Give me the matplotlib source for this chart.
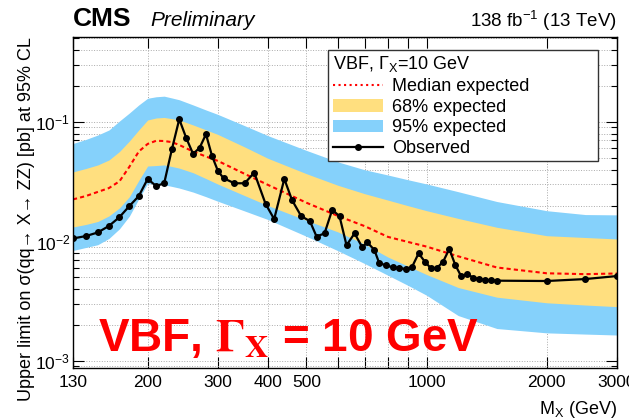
import numpy as np
import matplotlib
matplotlib.use("Agg")
import matplotlib.pyplot as plt
from matplotlib.ticker import FixedLocator, FixedFormatter, LogLocator, NullFormatter, NullLocator
from matplotlib.lines import Line2D
from matplotlib.patches import Patch

plt.rcParams['font.family'] = ['Liberation Sans', 'DejaVu Sans']
plt.rcParams['mathtext.default'] = 'regular'

# expected limit bands (pb)
mass_band = [130, 140, 150, 160, 170, 180, 190, 200, 210, 220, 230, 240, 260, 280, 300,
             350, 400, 500, 600, 700, 800, 900, 1000, 1200, 1500, 2000, 2500, 3000]
exp_95_hi = [0.0661, 0.0714, 0.0778, 0.0857, 0.1019, 0.1189, 0.1388, 0.1579, 0.1625, 0.1644,
             0.1588, 0.1534, 0.1388, 0.1260, 0.1156, 0.0931, 0.0769, 0.0578, 0.0463, 0.0398,
             0.0360, 0.0328, 0.0303, 0.0261, 0.0216, 0.0181, 0.0168, 0.0167]
exp_68_hi = [0.0382, 0.0408, 0.0437, 0.0481, 0.0566, 0.0693, 0.0857, 0.1039, 0.1080, 0.1091,
             0.1066, 0.1039, 0.0944, 0.0859, 0.0786, 0.0618, 0.0497, 0.0369, 0.0295, 0.0251,
             0.0222, 0.0199, 0.0181, 0.0156, 0.01315, 0.01118, 0.0108, 0.0105]
exp_median = [0.0225, 0.0240, 0.0260, 0.0280, 0.0319, 0.0422, 0.0566, 0.0655, 0.0696, 0.0693,
              0.0678, 0.0642, 0.0566, 0.0514, 0.0472, 0.0368, 0.0298, 0.0211, 0.01634, 0.01343,
              0.01093, 0.0099, 0.00906, 0.00752, 0.00606, 0.00542, 0.00533, 0.0054]
exp_68_lo = [0.01322, 0.01388, 0.0147, 0.01637, 0.0191, 0.0237, 0.0324, 0.0428, 0.0432, 0.0437,
             0.0424, 0.0411, 0.0376, 0.0336, 0.0302, 0.0242, 0.0200, 0.01502, 0.01201, 0.00948,
             0.00741, 0.0062, 0.00529, 0.00412, 0.00342, 0.00307, 0.00294, 0.00285]
exp_95_lo = [0.00841, 0.00891, 0.0094, 0.01061, 0.01277, 0.01632, 0.0227, 0.0306, 0.0302, 0.0298,
             0.0289, 0.0280, 0.0259, 0.0237, 0.0217, 0.0180, 0.01528, 0.01105, 0.00836, 0.00653,
             0.00522, 0.00428, 0.00355, 0.0024, 0.00187, 0.00172, 0.00168, 0.00165]

# observed limit
mass_obs = [130, 140, 150, 160, 170, 180, 190, 200, 210, 220, 230, 240, 250, 260, 270, 280, 290,
            300, 310, 330, 350, 370, 395, 415, 440, 460, 485, 510, 530, 555, 580, 605, 630, 660,
            690, 710, 740, 760, 790, 825, 855, 890, 920, 955, 990, 1025, 1060, 1100, 1140, 1180,
            1220, 1265, 1310, 1355, 1400, 1450, 1500, 2000, 2500, 3000]
obs_limit = [0.0106, 0.0111, 0.0119, 0.0135, 0.0160, 0.0198, 0.0240, 0.0334, 0.0291, 0.0307,
             0.0591, 0.1054, 0.0731, 0.0540, 0.0610, 0.0789, 0.0519, 0.0389, 0.0338, 0.0307,
             0.0307, 0.0377, 0.0206, 0.0154, 0.0334, 0.0222, 0.0163, 0.0148, 0.0110, 0.0117,
             0.0184, 0.0163, 0.0093, 0.0117, 0.00894, 0.00985, 0.00849, 0.00665, 0.0063, 0.00608,
             0.00597, 0.00589, 0.00615, 0.00796, 0.00678, 0.00597, 0.00597, 0.00678, 0.00866,
             0.00636, 0.00514, 0.00532, 0.00498, 0.00483, 0.00476, 0.00474, 0.0047, 0.00467,
             0.00485, 0.00514]

xticks = [130, 200, 300, 400, 500, 600, 700, 800, 900, 1000, 2000, 3000]
xticklabels = ['130', '200', '300', '400', '500', '', '', '', '', '1000', '2000', '3000']

W, H = 629, 419
fig = plt.figure(figsize=(W / 100, H / 100), dpi=100)
ax = fig.add_axes([73 / W, 1 - 368 / H, 544 / W, 331 / H])

ax.fill_between(mass_band, exp_95_lo, exp_95_hi, color='#85D1FB', lw=0)
ax.fill_between(mass_band, exp_68_lo, exp_68_hi, color='#FFDF7F', lw=0)
ax.plot(mass_band, exp_median, color='red', ls=(0, (2, 1.5)), lw=1.5)
ax.plot(mass_obs, obs_limit, color='black', lw=1.6, marker='o', ms=4)

ax.set_xscale('log')
ax.set_yscale('log')
ax.set_xlim(130, 3000)
ax.set_ylim(0.000874, 0.514)

ax.xaxis.set_major_locator(FixedLocator(xticks))
ax.xaxis.set_major_formatter(FixedFormatter(xticklabels))
ax.xaxis.set_minor_locator(NullLocator())
ax.yaxis.set_major_locator(LogLocator(base=10))
ax.yaxis.set_minor_locator(LogLocator(base=10, subs=range(2, 10)))
ax.yaxis.set_minor_formatter(NullFormatter())

ax.tick_params(which='both', direction='in', top=True, right=True, labelsize=12.5, width=0.8)
ax.tick_params(which='major', length=8)
ax.tick_params(which='minor', length=4.5)
ax.tick_params(axis='x', pad=5)
ax.tick_params(axis='y', pad=2)
for s in ax.spines.values():
    s.set_linewidth(1.0)

ax.set_axisbelow(True)
ax.grid(True, which='major', axis='x', color='#aaaaaa', ls=':', lw=0.7)
ax.grid(True, which='both', axis='y', color='#aaaaaa', ls=':', lw=0.7)

handles = [Line2D([], [], color='red', ls=':', lw=1.5),
           Patch(facecolor='#FFDF7F'),
           Patch(facecolor='#85D1FB'),
           Line2D([], [], color='black', lw=1.6, marker='o', ms=4)]
labels = ['Median expected', '68% expected', '95% expected', 'Observed']
leg = ax.legend(handles, labels, title=r'VBF, $\Gamma_X$=10 GeV', loc='upper left',
                bbox_to_anchor=(0.469, 0.961, 0.496, 0), mode='expand', alignment='left',
                fontsize=13, title_fontsize=13, frameon=True, fancybox=False,
                edgecolor='#333333', framealpha=1, borderpad=0.25, labelspacing=0.2,
                handlelength=2.8, handletextpad=0.5, borderaxespad=0)
leg.get_frame().set_linewidth(1.0)
leg.get_title().set_math_fontfamily('stix')

fig.text(73 / W, 1 - 26 / H, 'CMS', fontsize=19, fontweight='bold', ha='left', va='baseline')
fig.text(150 / W, 1 - 26 / H, 'Preliminary', fontsize=15, style='italic', ha='left', va='baseline')
fig.text(617 / W, 1 - 27 / H, r'138 fb$^{-1}$ (13 TeV)', fontsize=13.5, ha='right', va='baseline')
fig.text(27 / W, 1 - 37 / H, 'Upper limit on σ(qq→ X→ ZZ) [pb] at 95% CL', rotation=90,
         fontsize=13, ha='center', va='top')
fig.text(617 / W, 1 - 414 / H, r'M$_X$ (GeV)', fontsize=13, ha='right', va='baseline')
fig.text(98 / W, 1 - 351 / H, r'VBF, $\mathbf{\Gamma_X}$ = 10 GeV', color='red', fontsize=33,
         fontweight='bold', ha='left', va='baseline', math_fontfamily='stix')

fig.savefig('out.png', dpi=100)
